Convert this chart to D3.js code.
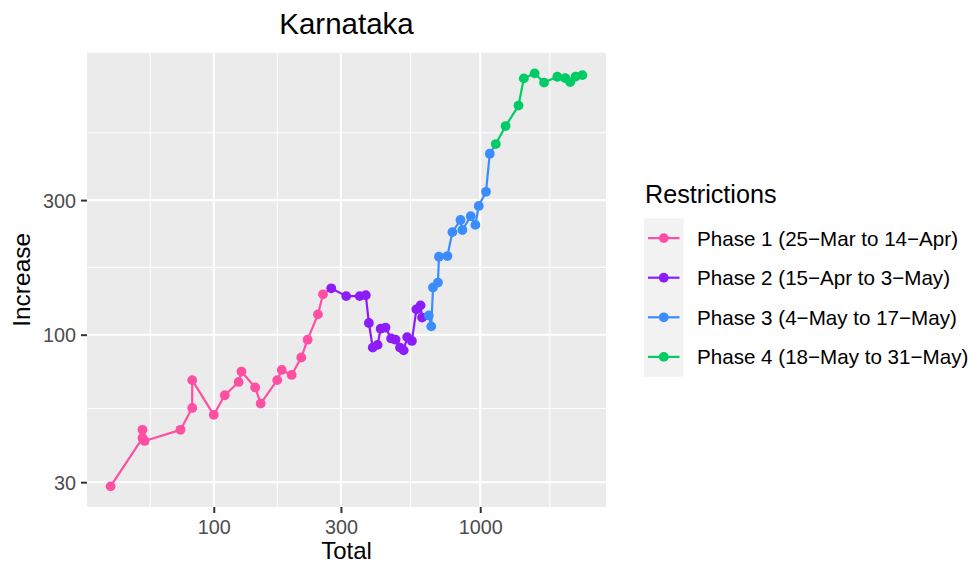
<!DOCTYPE html>
<html>
<head>
<meta charset="utf-8">
<script src="https://cdn.jsdelivr.net/npm/d3@7"></script>
<style>
  html, body { margin: 0; padding: 0; background: #ffffff; }
  text { font-family: "Liberation Sans", Arial, Helvetica, sans-serif; }
</style>
</head>
<body>
<svg id="chart" width="969" height="565"></svg>
<script>
// Karnataka: cumulative cases (Total) against recent increase, coloured by lockdown phase
const phaseLabels = [
  "Phase 1 (25\u2212Mar to 14\u2212Apr)",
  "Phase 2 (15\u2212Apr to 3\u2212May)",
  "Phase 3 (4\u2212May to 17\u2212May)",
  "Phase 4 (18\u2212May to 31\u2212May)"
];
const phaseColors = ["#FF4FA3", "#8C1CF8", "#3B8CFF", "#00CC66"];

const phase1Total    = [41, 54, 54, 55, 75, 83, 83, 100, 110, 124, 127, 143, 150, 173, 180, 196, 213, 225, 246, 257];
const phase1Increase = [29, 43, 46, 42, 46, 55, 69, 52, 61, 68, 74, 65, 57, 69, 75, 72, 83, 96, 118, 139];

const phase2Total    = [276, 314, 353, 372, 382, 395, 412, 423, 441, 463, 481, 500, 516, 532, 554, 576, 597, 605];
const phase2Increase = [146, 137, 137, 138, 110, 90, 92, 105, 106, 97, 96, 90, 88, 98, 95, 123, 127, 115];

const phase3Total    = [641, 655, 665, 694, 700, 753, 786, 843, 857, 921, 959, 987, 1051, 1086];
const phase3Increase = [117, 107, 147, 153, 189, 190, 231, 255, 235, 263, 245, 286, 321, 438];

const phase4Total    = [1144, 1245, 1392, 1457, 1600, 1736, 1947, 2084, 2176, 2282, 2418];
const phase4Increase = [474, 549, 649, 810, 844, 783, 821, 812, 786, 822, 832];

const xTicks = [100, 300, 1000];
const yTicks = [30, 100, 300];

const chartTitle = "Karnataka";
const xTitle = "Total";
const yTitle = "Increase";
const legendTitle = "Restrictions";

// ---------------------------------------------------------------
const totals = [phase1Total, phase2Total, phase3Total, phase4Total];
const increases = [phase1Increase, phase2Increase, phase3Increase, phase4Increase];
const phases = totals.map((t, i) => ({
  label: phaseLabels[i],
  color: phaseColors[i],
  points: t.map((v, j) => ({ total: v, increase: increases[i][j] }))
}));
const allPoints = phases.flatMap(p => p.points);

const svg = d3.select("#chart");
const panel = { left: 87, right: 606, top: 52.7, bottom: 507 };

// log domains padded by 5% of the log range on each side
function paddedLogDomain(values) {
  const lo = Math.log10(d3.min(values)), hi = Math.log10(d3.max(values));
  const pad = (hi - lo) * 0.05;
  return [Math.pow(10, lo - pad), Math.pow(10, hi + pad)];
}
const x = d3.scaleLog().domain(paddedLogDomain(allPoints.map(d => d.total)))
  .range([panel.left, panel.right]);
const y = d3.scaleLog().domain(paddedLogDomain(allPoints.map(d => d.increase)))
  .range([panel.bottom, panel.top]);

// minor breaks sit halfway (in log space) between major breaks
function minorBreaks(major, scale) {
  const lg = major.map(Math.log10);
  const ext = [lg[0] - (lg[1] - lg[0]), ...lg, lg[lg.length - 1] + (lg[lg.length - 1] - lg[lg.length - 2])];
  const out = [];
  for (let i = 0; i < ext.length - 1; i++) out.push(Math.pow(10, (ext[i] + ext[i + 1]) / 2));
  const [d0, d1] = scale.domain();
  return out.filter(v => v >= d0 && v <= d1);
}

svg.append("rect").attr("width", 969).attr("height", 565).attr("fill", "#ffffff");

svg.append("rect")
  .attr("x", panel.left).attr("y", panel.top)
  .attr("width", panel.right - panel.left).attr("height", panel.bottom - panel.top)
  .attr("fill", "#EBEBEB");

const grid = svg.append("g");
grid.selectAll("line.xminor").data(minorBreaks(xTicks, x)).join("line")
  .attr("x1", d => x(d)).attr("x2", d => x(d))
  .attr("y1", panel.top).attr("y2", panel.bottom)
  .attr("stroke", "#ffffff").attr("stroke-width", 1.05);
grid.selectAll("line.yminor").data(minorBreaks(yTicks, y)).join("line")
  .attr("y1", d => y(d)).attr("y2", d => y(d))
  .attr("x1", panel.left).attr("x2", panel.right)
  .attr("stroke", "#ffffff").attr("stroke-width", 1.05);
grid.selectAll("line.xmajor").data(xTicks).join("line")
  .attr("x1", d => x(d)).attr("x2", d => x(d))
  .attr("y1", panel.top).attr("y2", panel.bottom)
  .attr("stroke", "#ffffff").attr("stroke-width", 2.1);
grid.selectAll("line.ymajor").data(yTicks).join("line")
  .attr("y1", d => y(d)).attr("y2", d => y(d))
  .attr("x1", panel.left).attr("x2", panel.right)
  .attr("stroke", "#ffffff").attr("stroke-width", 2.1);

// axes
const xAxis = svg.append("g")
  .attr("transform", `translate(0,${panel.bottom})`)
  .call(d3.axisBottom(x).tickValues(xTicks).tickFormat(d3.format("d")).tickSizeInner(6).tickSizeOuter(0).tickPadding(5));
const yAxis = svg.append("g")
  .attr("transform", `translate(${panel.left},0)`)
  .call(d3.axisLeft(y).tickValues(yTicks).tickFormat(d3.format("d")).tickSizeInner(6).tickSizeOuter(0).tickPadding(5));
[xAxis, yAxis].forEach(a => {
  a.select(".domain").remove();
  a.selectAll(".tick line").attr("stroke", "#333333").attr("stroke-width", 2);
  a.selectAll(".tick text").attr("fill", "#4D4D4D").attr("font-size", "19.8px")
    .attr("font-family", '"Liberation Sans", Arial, sans-serif');
});
xAxis.selectAll(".tick text").attr("dy", null).attr("y", 27);
yAxis.selectAll(".tick text").attr("dy", "0.36em");

// lines: each phase runs on to the first point of the next phase
const line = d3.line().x(d => x(d.total)).y(d => y(d.increase));
phases.forEach((p, i) => {
  const pts = i < phases.length - 1 ? p.points.concat([phases[i + 1].points[0]]) : p.points;
  svg.append("path").datum(pts)
    .attr("d", line)
    .attr("fill", "none")
    .attr("stroke", p.color)
    .attr("stroke-width", 2.2)
    .attr("stroke-linejoin", "round");
});
phases.forEach(p => {
  svg.append("g").selectAll("circle").data(p.points).join("circle")
    .attr("cx", d => x(d.total)).attr("cy", d => y(d.increase))
    .attr("r", 4.9).attr("fill", p.color);
});

// titles
const cx = (panel.left + panel.right) / 2;
const cy = (panel.top + panel.bottom) / 2;
svg.append("text").attr("x", cx).attr("y", 34).attr("text-anchor", "middle")
  .attr("font-size", "29.5px").attr("fill", "#000").text(chartTitle);
svg.append("text").attr("x", cx).attr("y", 559).attr("text-anchor", "middle")
  .attr("font-size", "24px").attr("fill", "#000").text(xTitle);
svg.append("text").attr("transform", `translate(30,${cy}) rotate(-90)`).attr("text-anchor", "middle")
  .attr("font-size", "24.5px").attr("fill", "#000").text(yTitle);

// legend
const legend = svg.append("g").attr("transform", "translate(644,0)");
legend.append("text").attr("x", 1).attr("y", 203).attr("font-size", "25.2px").attr("fill", "#000").text(legendTitle);
const keyTop = 218.3, keyH = 39.6, keyW = 39.5;
legend.append("rect").attr("x", 0).attr("y", keyTop).attr("width", keyW).attr("height", keyH * phases.length)
  .attr("fill", "#F2F2F2");
const rows = legend.selectAll("g.row").data(phases).join("g")
  .attr("transform", (d, i) => `translate(0,${keyTop + keyH * i + keyH / 2})`);
rows.append("line").attr("x1", 4).attr("x2", keyW - 4).attr("y1", 0).attr("y2", 0)
  .attr("stroke", d => d.color).attr("stroke-width", 2.2);
rows.append("circle").attr("cx", keyW / 2).attr("cy", 0).attr("r", 4.9).attr("fill", d => d.color);
rows.append("text").attr("x", 53).attr("y", 0).attr("dy", "0.36em")
  .attr("font-size", "20.6px").attr("fill", "#000").text(d => d.label);
</script>
</body>
</html>
